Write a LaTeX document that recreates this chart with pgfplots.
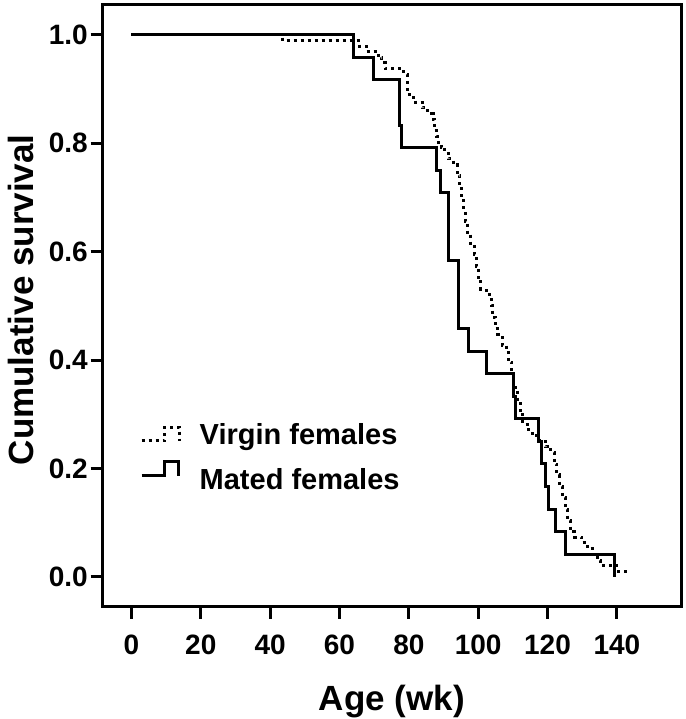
\documentclass[border=0pt]{standalone}
\usepackage{fontspec}
\setmainfont{Liberation Sans}
\usepackage{pgfplots}
\pgfplotsset{compat=1.18}
\usetikzlibrary{calc}
\pgfplotsset{
  vleg/.style={legend image code/.code={
    \draw[##1] (0pt,-5.7pt) -- (23pt,-5.7pt) -- (23pt,8pt) -- (38pt,8pt) -- (38pt,-5.7pt);
    \path[draw=none] (0pt,0pt) -- (58pt,0pt);}},
  mleg/.style={legend image code/.code={
    \draw[##1] (0pt,3.7pt) -- (23pt,3.7pt) -- (23pt,17.7pt) -- (37pt,17.7pt) -- (37pt,3.7pt);
    \path[draw=none] (0pt,0pt) -- (58pt,0pt);}},
}
\begin{document}
\begin{tikzpicture}
\begin{axis}[name=ax, scale only axis, width=578.3pt, height=601.7pt,
  xmin=-8.3, xmax=158.5, ymin=-0.055, ymax=1.055,
  axis line style={line width=3pt},
  xtick={0,20,...,140}, ytick={0,0.2,0.4,0.6,0.8,1.0},
  xtick pos=left, ytick pos=left,
  tick align=outside, major tick length=12pt,
  tick style={line width=3pt, black},
  /pgf/number format/assume math mode=true,
  yticklabel style={/pgf/number format/fixed, /pgf/number format/fixed zerofill, /pgf/number format/precision=1},
  ticklabel style={font=\fontsize{28}{28}\selectfont\bfseries},
  xticklabel style={anchor=north, inner sep=0pt, yshift=-16pt},
  yticklabel style={anchor=east, inner sep=0pt, xshift=-2.7pt},
  label style={font=\fontsize{35}{35}\selectfont\bfseries},
  xlabel={Age (wk)}, ylabel={Cumulative survival},
  xlabel style={at={(axis description cs:0.5,-0.1717)}, anchor=base},
  ylabel style={at={(axis description cs:-0.1205,0.51)}, anchor=base},
  legend style={at={(axis description cs:0.0645,0.304)}, anchor=north west,
    draw=none, fill=none, inner sep=0pt, row sep=14pt,
    font=\fontsize{29}{29}\selectfont\bfseries,
    nodes={inner sep=0pt}},
  legend cell align=left,
]
\addplot[const plot, black, line width=3pt, dash pattern=on 3pt off 4pt, vleg]
coordinates {
(0,1.0) (43.6,0.989) (65.8,0.979) (67.7,0.969) (71.2,0.958) (72.2,0.948)
(73.2,0.937) (78.6,0.927) (79.6,0.896) (80.1,0.885) (82.0,0.875) (84.0,0.865)
(85.5,0.854) (87.0,0.844) (87.3,0.823) (88.0,0.812) (88.6,0.802) (89.4,0.792)
(90.4,0.781) (91.4,0.771) (92.9,0.760) (93.9,0.740) (94.7,0.719) (95.3,0.698)
(95.9,0.677) (96.3,0.656) (97.0,0.635) (97.8,0.615) (98.8,0.594) (99.4,0.573)
(100.0,0.552) (100.8,0.531) (102.3,0.521) (103.7,0.500) (104.2,0.479) (104.9,0.458)
(105.7,0.448) (106.9,0.427) (108.2,0.417) (108.7,0.396) (109.7,0.375) (110.2,0.354)
(110.7,0.344) (111.4,0.323) (112.1,0.302) (112.9,0.281) (114.1,0.271) (115.6,0.260)
(117.6,0.250) (119.5,0.240) (121.0,0.229) (122.0,0.208) (122.7,0.188) (123.5,0.167)
(124.3,0.146) (125.1,0.125) (125.8,0.104) (126.7,0.083) (127.9,0.073) (129.9,0.063)
(131.4,0.052) (132.9,0.042) (134.3,0.031) (135.3,0.021) (140.0,0.0104) (142.4,0.0)
};
\addlegendentry{Virgin females}
\addplot[const plot, black, line width=3pt, mleg]
coordinates {
(0,1.0) (63.9,0.9583) (69.8,0.9167) (77.2,0.8333) (78.0,0.7917) (88.1,0.75)
(89.0,0.7083) (91.4,0.5833) (94.3,0.4583) (97.2,0.4167) (102.3,0.375)
(110.2,0.3333) (110.9,0.2917) (117.4,0.25) (118.3,0.2083) (119.3,0.1667)
(120.3,0.125) (122.2,0.0833) (125.1,0.0417) (139.4,0.0)
};
\addlegendentry{Mated females}
\end{axis}
\pgfresetboundingbox
\path[use as bounding box] ($(ax.south west)+(-102.7pt,-112.3pt)$) rectangle ($(ax.north east)+(4pt,5pt)$);
\end{tikzpicture}
\end{document}
